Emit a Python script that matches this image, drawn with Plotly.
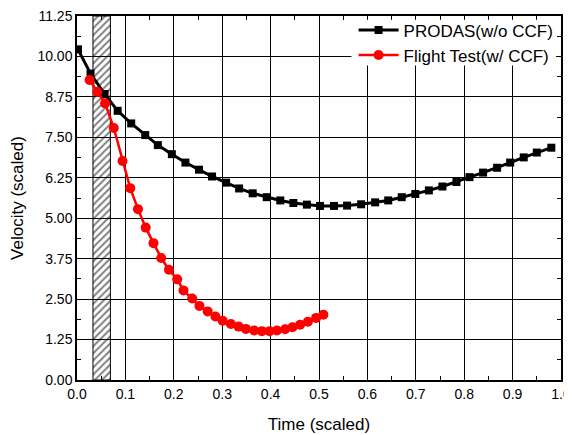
import plotly.graph_objects as go

# PRODAS (w/o CCF)
prodas_t = [0.002, 0.028, 0.057, 0.084, 0.112, 0.141, 0.167, 0.196, 0.224, 0.252,
            0.279, 0.308, 0.335, 0.363, 0.392, 0.420, 0.447, 0.475, 0.502, 0.531,
            0.558, 0.587, 0.616, 0.643, 0.671, 0.699, 0.727, 0.755, 0.784, 0.811,
            0.839, 0.868, 0.895, 0.923, 0.950, 0.980]
prodas_v = [10.22, 9.47, 8.84, 8.32, 7.93, 7.57, 7.26, 6.98, 6.72, 6.50,
            6.29, 6.10, 5.92, 5.77, 5.65, 5.55, 5.47, 5.42, 5.38, 5.38,
            5.39, 5.43, 5.49, 5.55, 5.65, 5.75, 5.86, 5.98, 6.12, 6.27,
            6.41, 6.56, 6.72, 6.88, 7.03, 7.18]

# Flight test (w/ CCF)
flight_t = [0.026, 0.042, 0.058, 0.076, 0.094, 0.110, 0.126, 0.142, 0.158, 0.174,
            0.190, 0.207, 0.220, 0.238, 0.253, 0.270, 0.286, 0.301, 0.318, 0.334,
            0.349, 0.366, 0.382, 0.398, 0.413, 0.430, 0.445, 0.461, 0.477, 0.494,
            0.509]
flight_v = [9.27, 8.90, 8.55, 7.79, 6.77, 5.93, 5.28, 4.71, 4.23, 3.77,
            3.41, 3.11, 2.77, 2.52, 2.29, 2.12, 1.96, 1.83, 1.73, 1.65,
            1.58, 1.53, 1.51, 1.51, 1.53, 1.57, 1.63, 1.71, 1.80, 1.92,
            2.02]

# hatched time window
band_start = 0.033
band_end = 0.069
y_max = 11.25

fig = go.Figure()

# zona rayada
fig.add_trace(go.Bar(
    x=[(band_start + band_end) / 2], y=[y_max], width=[band_end - band_start],
    marker=dict(color='rgba(0,0,0,0)',
                line=dict(color='black', width=1),
                pattern=dict(shape='/', fgcolor='black', bgcolor='rgba(0,0,0,0)',
                             size=5, solidity=0.4)),
    showlegend=False, hoverinfo='skip'
))

fig.add_trace(go.Scatter(
    x=prodas_t, y=prodas_v, mode='lines+markers', name='PRODAS(w/o CCF)',
    line=dict(color='black', width=3),
    marker=dict(symbol='square', size=8, color='black')
))
fig.add_trace(go.Scatter(
    x=flight_t, y=flight_v, mode='lines+markers', name='Flight Test(w/ CCF)',
    line=dict(color='red', width=2.5),
    marker=dict(symbol='circle', size=10, color='red')
))

axis_style = dict(
    showline=True, linecolor='black', linewidth=1.5, mirror='ticks',
    showgrid=True, gridcolor='black', gridwidth=1, zeroline=False,
    ticks='inside', ticklen=6, tickcolor='black', automargin=False,
    ticklabeloverflow='allow',
    tickfont=dict(family='Arial', size=14, color='black'),
)

fig.update_xaxes(
    range=[0, 1], dtick=0.1, tickformat='.1f',
    minor=dict(ticks='inside', ticklen=4, dtick=0.05, tickcolor='black', showgrid=False),
    title=dict(text='Time (scaled)', font=dict(family='Arial', size=17, color='black'), standoff=18),
    **axis_style
)
fig.update_yaxes(
    range=[0, y_max], dtick=1.25, tickformat='.2f',
    minor=dict(ticks='inside', ticklen=4, dtick=0.625, tickcolor='black', showgrid=False),
    title=dict(text='Velocity (scaled)', font=dict(family='Arial', size=17, color='black'), standoff=17),
    **axis_style
)

# white box behind the legend so the grid does not show through
fig.add_shape(type='rect', xref='paper', yref='paper',
              x0=0.567, x1=0.99, y0=0.864, y1=0.99,
              fillcolor='white', line=dict(width=0), layer='above')

# page body adds 8px at top/left, margins take that into account
fig.update_layout(
    width=572, height=435,
    margin=dict(l=69, r=19, t=4, b=63),
    plot_bgcolor='white', paper_bgcolor='white',
    legend=dict(x=0.995, y=1.01, xanchor='right', yanchor='top',
                bgcolor='rgba(0,0,0,0)', font=dict(family='Arial', size=17, color='black'),
                itemwidth=40, tracegroupgap=0),
    font=dict(family='Arial'),
)

fig.write_html("out.html")
